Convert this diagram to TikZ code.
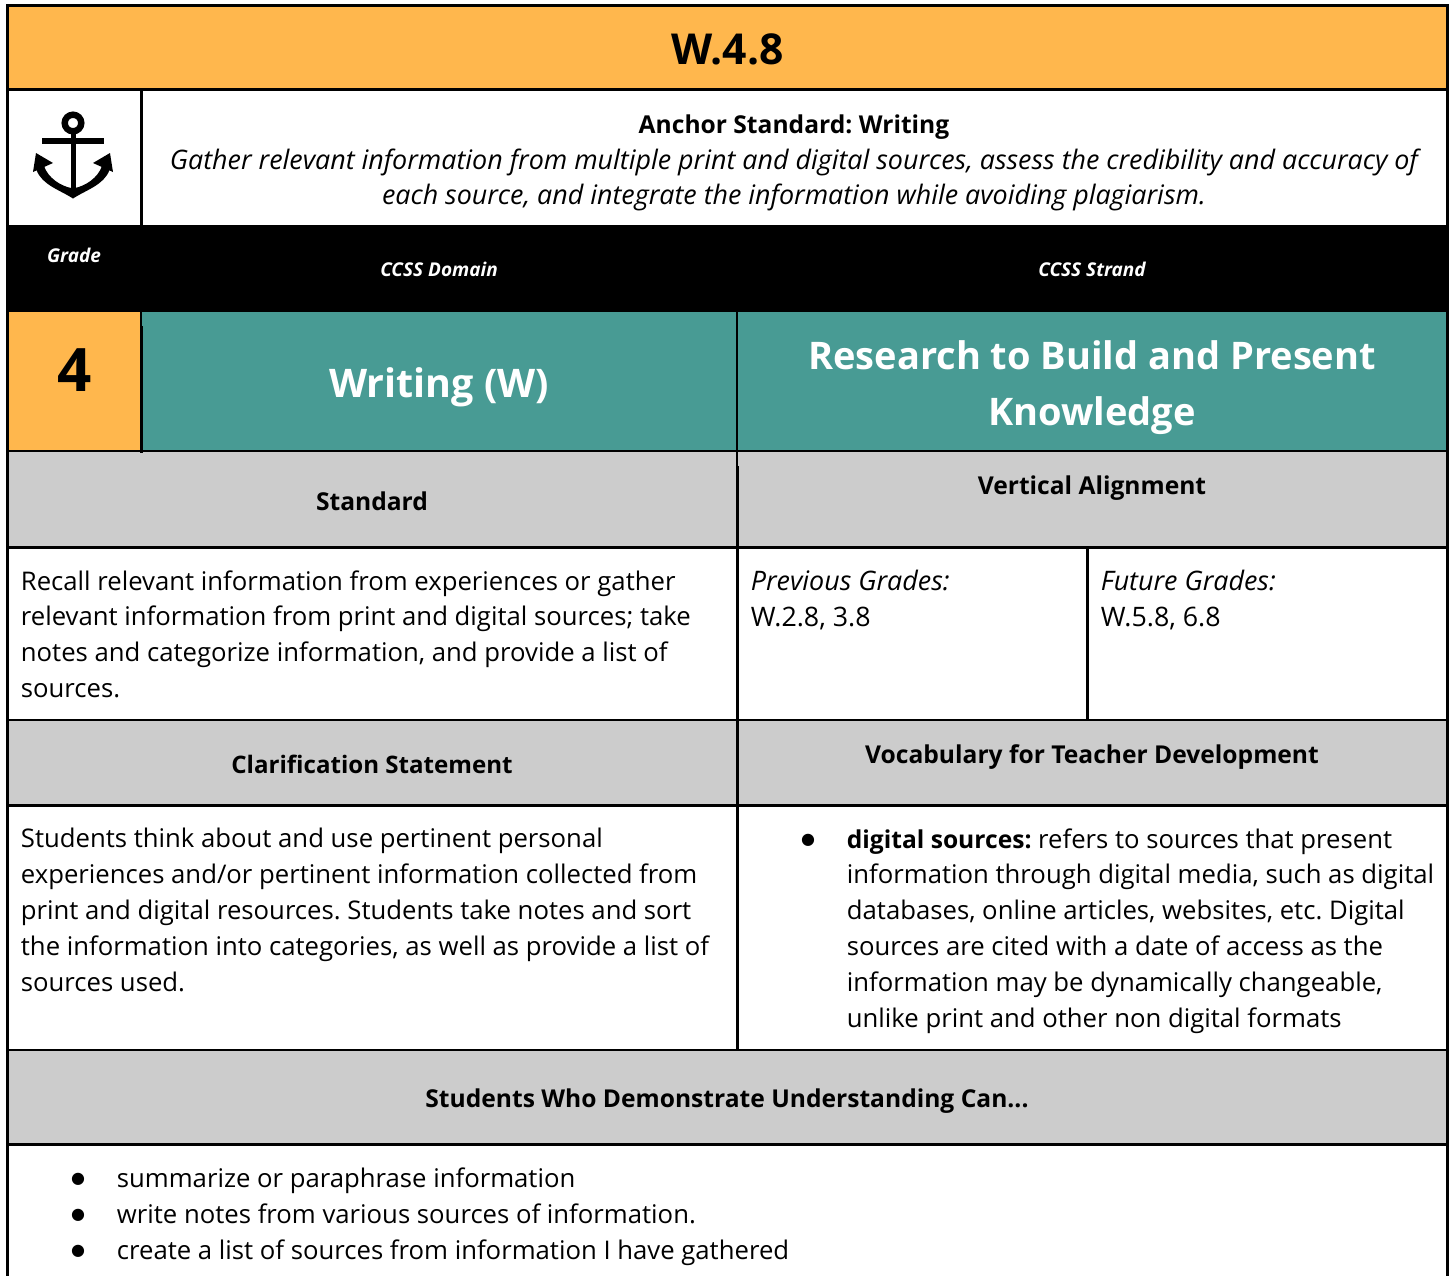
\documentclass[tikz,border=0pt]{standalone}
\usepackage{fontspec}
\setmainfont{Open Sans}
\newfontfamily\bulletfont{DejaVu Sans}
\definecolor{orng}{HTML}{FFB74D}
\definecolor{teal2}{HTML}{489B94}
\definecolor{gry}{HTML}{CCCCCC}
\newcommand{\fsz}[1]{\fontsize{#1}{17.9pt}\selectfont}
\frenchspacing
\tikzset{
  x=0.5pt,y=-0.5pt,
  txt/.style={inner sep=0pt,font=\fsz{12.85pt},align=left,anchor=north west},
  midtxt/.style={inner sep=0pt,font=\fsz{13.43pt}\itshape,align=center,anchor=center},
  head/.style={inner sep=0pt,font=\fsz{12.3pt}\bfseries,align=center,anchor=center},
  rulethick/.style={line width=1.5pt,draw=black},
  rulethin/.style={line width=1pt,draw=black},
  bandtxt/.style={inner sep=0pt,font=\fsz{9.5pt}\bfseries\itshape,text=white,anchor=center},
  bigtxt/.style={inner sep=0pt,font=\fontsize{19pt}{28pt}\selectfont\bfseries,text=white,align=center,anchor=center},
  bulletmark/.style={inner sep=0pt,font=\fontsize{8pt}{10pt}\selectfont\bulletfont,anchor=center}
}
\begin{document}
\begin{tikzpicture}
\useasboundingbox (0,0) rectangle (1451,1276);
\fill[white] (0,0) rectangle (1451,1276);
% fills
\fill[orng] (7,5) rectangle (1447,89);
\fill[black] (6,225) rectangle (1449,312);
\fill[orng] (7,312) rectangle (141,451);
\fill[teal2] (142,312) rectangle (1447,451);
\fill[gry] (7,451) rectangle (1447,547);
\fill[gry] (7,720) rectangle (1447,805);
\fill[gry] (7,1050) rectangle (1447,1144);
% rules
\draw[rulethick] (6,5.2) -- (1449,5.2);
\draw[rulethick] (7.5,4) -- (7.5,1276);
\draw[rulethick] (1447.5,4) -- (1447.5,1276);
\draw[rulethick] (6,89.5) -- (1449,89.5);
\draw[rulethick] (141.5,89) -- (141.5,225);
\draw[rulethin] (141,312) -- (141,326);
\draw[rulethick] (141.5,326) -- (141.5,453);
\draw[rulethin] (737,312) -- (737,466);
\draw[rulethick] (737.5,466) -- (737.5,1050);
\draw[rulethick] (1087.5,547) -- (1087.5,721);
\draw[rulethin] (6,451) -- (1449,451);
\draw[rulethick] (6,547.5) -- (1449,547.5);
\draw[rulethin] (6,720) -- (1449,720);
\draw[rulethick] (6,805.3) -- (1449,805.3);
\draw[rulethin] (6,1050) -- (1449,1050);
\draw[rulethick] (6,1144) -- (1449,1144);
% anchor icon
\draw[black,line width=3.2pt] (73,123) circle (8.3);
\fill[black] (42,137.5) rectangle (104,144);
\fill[black] (70.5,132) rectangle (75.5,195);
\fill[black] (36.5,170) .. controls (42,185) and (60,190) .. (73,198.5) .. controls (86,190) and (104,185) .. (109.5,170)
  -- (102,166) .. controls (98,178) and (85,186) .. (75,188) -- (71,188) .. controls (61,186) and (48,178) .. (44,166) -- cycle;
\fill[black] (36,153) -- (33,172) -- (53,163) -- cycle;
\fill[black] (110,153) -- (113,172) -- (93,163) -- cycle;
% texts
\node[inner sep=0pt,font=\fontsize{21.3pt}{24pt}\selectfont\bfseries] (title) at (727.5,49) {W.4.8};
\node[head] (anchorhead) at (794,127) {Anchor Standard: Writing};
\node[midtxt] (anchortext) at (794,180) {Gather relevant information from multiple print and digital sources, assess the credibility and accuracy of\\each source, and integrate the information while avoiding plagiarism.};
\node[bandtxt] (grade) at (74,255) {Grade};
\node[bandtxt] (domain) at (439,269) {CCSS Domain};
\node[bandtxt] (strand) at (1092,269) {CCSS Strand};
\node[inner sep=0pt,font=\fontsize{30pt}{36pt}\selectfont\bfseries] (four) at (74.5,370) {4};
\node[bigtxt,font=\fontsize{19.7pt}{28pt}\selectfont\bfseries] (writing) at (439,387) {Writing (W)};
\node[bigtxt] (research) at (1092,387.5) {Research to Build and Present\\Knowledge};
\node[head] (standard) at (372,501) {Standard};
\node[head] (vertical) at (1092,488) {Vertical Alignment};
\node[txt] (standardtext) at (20.5,570) {Recall relevant information from experiences or gather\\relevant information from print and digital sources; take\\notes and categorize information, and provide a list of\\sources.};
\node[txt] (previous) at (750.5,570) {{\fontsize{13.43pt}{17.9pt}\selectfont\itshape Previous Grades:}\\{\fontsize{13.4pt}{17.9pt}\selectfont W.2.8, 3.8}};
\node[txt] (future) at (1100.5,570) {{\fontsize{13.43pt}{17.9pt}\selectfont\itshape Future Grades:}\\{\fontsize{13.4pt}{17.9pt}\selectfont W.5.8, 6.8}};
\node[head,font=\fsz{12.05pt}\bfseries] (clarification) at (372,764) {Clarification Statement};
\node[head] (vocabulary) at (1092,757) {Vocabulary for Teacher Development};
\node[txt] (clartext) at (20.5,828) {Students think about and use pertinent personal\\experiences and/or pertinent information collected from\\print and digital resources. Students take notes and sort\\the information into categories, as well as provide a list of\\sources used.};
\node[bulletmark] (vb) at (808,840) {●};
\node[txt] (vocabtext) at (846.5,828) {{\fontsize{12.3pt}{17.9pt}\selectfont\bfseries digital sources:} refers to sources that present\\information through digital media, such as digital\\databases, online articles, websites, etc. Digital\\sources are cited with a date of access as the\\information may be dynamically changeable,\\unlike print and other non digital formats};
\node[head] (students) at (727,1101) {Students Who Demonstrate Understanding Can...};
\node[bulletmark] (b1) at (78,1179) {●};
\node[bulletmark] (b2) at (78,1215) {●};
\node[bulletmark] (b3) at (78,1251) {●};
\node[txt] (l1) at (116.5,1167) {summarize or paraphrase information};
\node[txt] (l2) at (116.5,1203) {write notes from various sources of information.};
\node[txt] (l3) at (116.5,1239) {create a list of sources from information I have gathered};
\end{tikzpicture}
\end{document}
